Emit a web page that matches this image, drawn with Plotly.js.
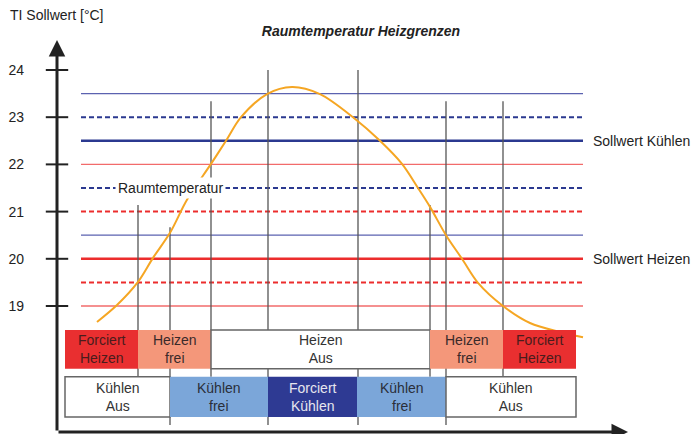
<!DOCTYPE html>
<html>
<head>
<meta charset="utf-8">
<script src="https://cdn.plot.ly/plotly-3.0.1.min.js"></script>
<style>html,body{margin:0;padding:0;background:#fff;}#chart{width:699px;height:434px;}</style>
</head>
<body>
<div id="chart"></div>
<script>
// ---- data ----
// time axis t (arbitrary units), temperature in °C
const curveT    = [40, 60, 81, 96, 113, 130, 154, 169, 184, 210, 235, 263, 296, 323, 345, 361, 373, 389, 405, 421, 446, 473, 503, 526];
const curveTemp = [18.66, 19.02, 19.51, 20.02, 20.55, 21.25, 22.01, 22.50, 23.00, 23.49, 23.64, 23.49, 23.00, 22.50, 22.01, 21.50, 21.10, 20.50, 20.00, 19.49, 19.00, 18.64, 18.45, 18.34];

const levelValues = [23.5, 23, 22.5, 22, 21.5, 21, 20.5, 20, 19.5, 19];
const levelStart = 24, levelEnd = 526;

const yTicks = [19, 20, 21, 22, 23, 24];

const switchT   = [81, 113, 154, 211, 301, 373, 389, 446];
const switchTop = [21.14, 20.67, 23.34, 24.0, 24.0, 21.14, 23.34, 23.34];
const switchBottom = [17.5, 16.48, 17.5, 16.48, 16.48, 17.5, 16.48, 17.5];

const heatLabels = ['Forciert<br>Heizen', 'Heizen<br>frei', 'Heizen<br>Aus', 'Heizen<br>frei', 'Forciert<br>Heizen'];
const heatStart  = [8, 81, 154, 373, 446];
const heatEnd    = [81, 154, 373, 446, 519];

const coolLabels = ['Kühlen<br>Aus', 'Kühlen<br>frei', 'Forciert<br>Kühlen', 'Kühlen<br>frei', 'Kühlen<br>Aus'];
const coolStart  = [8, 113, 211, 300, 389];
const coolEnd    = [113, 211, 300, 389, 519];

// ---- styles ----
const FONT = 'Liberation Sans, Arial, Helvetica, sans-serif';
const BLUE = '#2B3990', BLUE_THIN = '#5B62B0', RED = '#EC2D2D', RED_THIN = '#F26B6B';
const levelStyle = [
  {color: BLUE_THIN, width: 1.3, dash: 'solid'},
  {color: BLUE, width: 2, dash: '5px,3px'},
  {color: BLUE, width: 2.5, dash: 'solid'},
  {color: RED_THIN, width: 1.3, dash: 'solid'},
  {color: BLUE, width: 2, dash: '5px,3px'},
  {color: RED, width: 2, dash: '5px,3px'},
  {color: BLUE_THIN, width: 1.3, dash: 'solid'},
  {color: RED, width: 2.5, dash: 'solid'},
  {color: RED, width: 2, dash: '5px,3px'},
  {color: RED_THIN, width: 1.3, dash: 'solid'}
];
const heatStyle = [
  {fill: '#E92F30', line: 'rgba(0,0,0,0)', text: '#4a1c1c'},
  {fill: '#F4977A', line: 'rgba(0,0,0,0)', text: '#3a2a2a'},
  {fill: '#FFFFFF', line: '#666666', text: '#333333'},
  {fill: '#F4977A', line: 'rgba(0,0,0,0)', text: '#3a2a2a'},
  {fill: '#E92F30', line: 'rgba(0,0,0,0)', text: '#4a1c1c'}
];
const coolStyle = [
  {fill: '#FFFFFF', line: '#666666', text: '#333333'},
  {fill: '#7BA6D9', line: 'rgba(0,0,0,0)', text: '#2a2f3a'},
  {fill: '#2E3A93', line: 'rgba(0,0,0,0)', text: '#E6E6EE'},
  {fill: '#7BA6D9', line: 'rgba(0,0,0,0)', text: '#2a2f3a'},
  {fill: '#FFFFFF', line: '#666666', text: '#333333'}
];
const heatRow = [17.67, 18.49];
const coolRow = [16.65, 17.50];

const yMin = 16.331, yMax = 24.847, xMax = 571;

// ---- traces ----
const traces = [];
levelValues.forEach((v, i) => {
  traces.push({
    type: 'scatter', mode: 'lines', x: [levelStart, levelEnd], y: [v, v],
    line: {color: levelStyle[i].color, width: levelStyle[i].width, dash: levelStyle[i].dash},
    hoverinfo: 'skip', showlegend: false
  });
});
const vx = [], vy = [];
switchT.forEach((t, i) => { vx.push(t, t, null); vy.push(switchBottom[i], switchTop[i], null); });
traces.push({type: 'scatter', mode: 'lines', x: vx, y: vy, line: {color: '#555555', width: 1.3}, hoverinfo: 'skip', showlegend: false});
traces.push({type: 'scatter', mode: 'lines', x: curveT, y: curveTemp, line: {color: '#F5A623', width: 2, shape: 'spline', smoothing: 0.9}, hoverinfo: 'skip', showlegend: false});
traces.push({type: 'scatter', mode: 'markers', x: yTicks.map(() => 0), y: yTicks,
  marker: {symbol: 'line-ew', size: 16, line: {color: '#222', width: 2}}, cliponaxis: false, hoverinfo: 'skip', showlegend: false});

// ---- shapes & annotations ----
const shapes = [], annotations = [];
function addRow(starts, ends, labels, styles, row) {
  starts.forEach((s, i) => {
    shapes.push({type: 'rect', xref: 'x', yref: 'y', x0: s, x1: ends[i], y0: row[0], y1: row[1],
      fillcolor: styles[i].fill, line: {color: styles[i].line, width: 1.5}, layer: 'above'});
    annotations.push({xref: 'x', yref: 'y', x: (s + ends[i]) / 2, y: (row[0] + row[1]) / 2,
      text: labels[i], showarrow: false, font: {family: FONT, size: 14, color: styles[i].text}});
  });
}
addRow(heatStart, heatEnd, heatLabels, heatStyle, heatRow);
addRow(coolStart, coolEnd, coolLabels, coolStyle, coolRow);

annotations.push({xref: 'x', yref: 'y', x: 113, y: 21.5, text: 'Raumtemperatur', showarrow: false,
  bgcolor: '#ffffff', borderpad: 2, font: {family: FONT, size: 14, color: '#222'}});
annotations.push({xref: 'x', yref: 'y', x: 534, y: 22.5, xanchor: 'left', text: 'Sollwert Kühlen', showarrow: false,
  font: {family: FONT, size: 14, color: '#222'}});
annotations.push({xref: 'x', yref: 'y', x: 534, y: 20, xanchor: 'left', text: 'Sollwert Heizen', showarrow: false,
  font: {family: FONT, size: 14, color: '#222'}});
annotations.push({xref: 'x', yref: 'y', x: 588, y: 16.65, text: 't', showarrow: false,
  font: {family: FONT, size: 14, color: '#222'}});
annotations.push({xref: 'paper', yref: 'paper', x: -49 / 571, y: 1 + 15 / 402, xanchor: 'left', yanchor: 'middle',
  text: 'TI Sollwert [°C]', showarrow: false, font: {family: FONT, size: 14, color: '#222'}});
// axes with arrows
annotations.push({xref: 'x', yref: 'y', axref: 'x', ayref: 'y', x: 0, y: 24.636, ax: 0, ay: yMin, text: '',
  showarrow: true, arrowhead: 2, arrowsize: 1.1, arrowwidth: 3, arrowcolor: '#222', standoff: 0, startstandoff: 0});
annotations.push({xref: 'x', yref: 'y', axref: 'x', ayref: 'y', x: xMax, y: yMin, ax: 0, ay: yMin, text: '',
  showarrow: true, arrowhead: 2, arrowsize: 1.1, arrowwidth: 3, arrowcolor: '#222', standoff: 0, startstandoff: 0});

const layout = {
  width: 699, height: 434,
  margin: {l: 57, r: 71, t: 30, b: 2},
  paper_bgcolor: '#fff', plot_bgcolor: '#fff',
  showlegend: false,
  title: {text: '<b><i>Raumtemperatur Heizgrenzen</i></b>', x: 361 / 699, xanchor: 'center', xref: 'container',
    y: 1 - 31 / 434, yanchor: 'middle', yref: 'container', font: {family: FONT, size: 14, color: '#222'}},
  xaxis: {range: [0, xMax], visible: false, fixedrange: true},
  yaxis: {range: [yMin, yMax], tickvals: yTicks, ticks: '', showgrid: false, zeroline: false, showline: false,
    ticklabelstandoff: 32, tickfont: {family: FONT, size: 14, color: '#222'}, fixedrange: true},
  shapes: shapes, annotations: annotations
};

Plotly.newPlot('chart', traces, layout, {staticPlot: true, displayModeBar: false});
</script>
</body>
</html>
